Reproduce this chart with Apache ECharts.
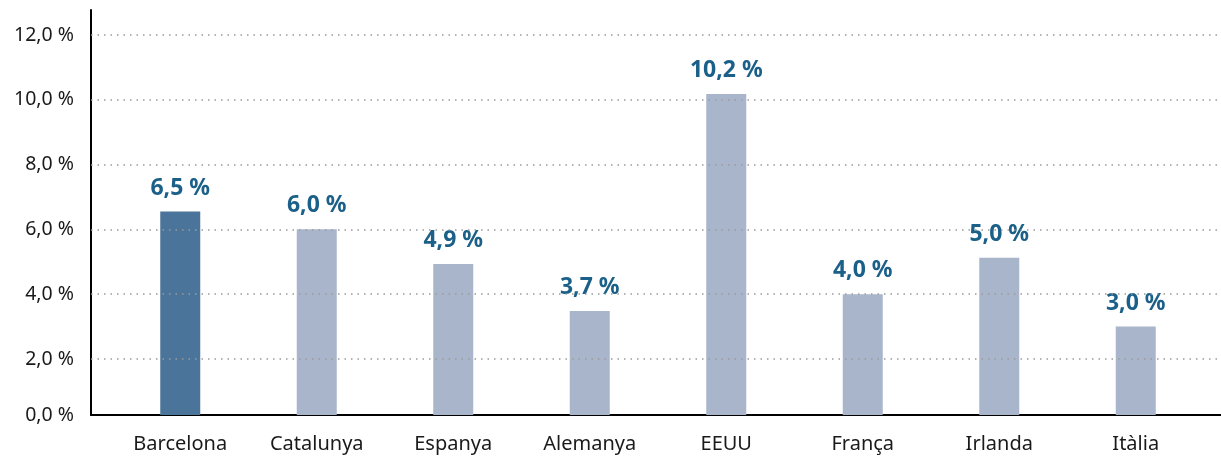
<!DOCTYPE html>
<html>
<head>
<meta charset="utf-8">
<script src="https://cdn.jsdelivr.net/npm/echarts@6/dist/echarts.min.js"></script>
<style>
  html, body { margin: 0; padding: 0; background: #fff; }
  #chart { width: 1221px; height: 458px; }
</style>
</head>
<body>
<div id="chart"></div>
<script>
const categories = ['Barcelona', 'Catalunya', 'Espanya', 'Alemanya', 'EEUU', 'França', 'Irlanda', 'Itàlia']
const barValues = [6.55, 6.0, 4.93, 3.48, 10.18, 4.0, 5.12, 3.0]
const valueLabels = ['6,5 %', '6,0 %', '4,9 %', '3,7 %', '10,2 %', '4,0 %', '5,0 %', '3,0 %']
const gridValues = [2, 4, 6, 8, 10, 12]
// the original's baseline sits a little above zero
const axisMin = 0.27
const axisMax = 12.77
const yLabelValues = [axisMin].concat(gridValues)

const FONT = '"Noto Sans", Roboto, sans-serif'
const highlight = 'Barcelona'

const fmtPct = v => (v < 1 ? 0 : v).toFixed(1).replace('.', ',') + ' %'

const chart = echarts.init(document.getElementById('chart'), null, { renderer: 'canvas' })

chart.setOption({
  animation: false,
  grid: [
    { left: 91, right: 0, top: 10, bottom: 43 },
    { left: 112, right: 17, top: 10, bottom: 43 }
  ],
  xAxis: [
    {
      gridIndex: 0,
      type: 'category',
      data: categories,
      axisLine: { lineStyle: { color: '#000', width: 2 } },
      axisTick: { show: false },
      axisLabel: { show: false }
    },
    {
      gridIndex: 1,
      type: 'category',
      data: categories,
      axisLine: { show: false },
      axisTick: { show: false },
      axisLabel: { color: '#1a1a1a', fontSize: 20, fontFamily: FONT, margin: 19 }
    }
  ],
  yAxis: [
    {
      gridIndex: 0,
      type: 'value',
      min: axisMin,
      max: axisMax,
      axisLine: { show: true, lineStyle: { color: '#000', width: 2 } },
      axisTick: { show: false },
      splitLine: { show: false },
      axisLabel: {
        customValues: yLabelValues,
        formatter: fmtPct,
        color: '#1a1a1a',
        fontSize: 19.5,
        fontFamily: FONT,
        margin: 17,
        padding: [0, 0, 7, 0]
      }
    },
    {
      gridIndex: 1,
      type: 'value',
      min: axisMin,
      max: axisMax,
      show: false,
      splitLine: { show: false }
    }
  ],
  series: [
    {
      // carries the dotted gridlines across the full plot width
      type: 'line',
      xAxisIndex: 0,
      yAxisIndex: 0,
      data: [],
      silent: true,
      markLine: {
        silent: true,
        symbol: 'none',
        label: { show: false },
        lineStyle: { type: [1.5, 5], color: '#9a9a9a', width: 1.5 },
        data: gridValues.map(v => ({ yAxis: v }))
      }
    },
    {
      type: 'bar',
      xAxisIndex: 1,
      yAxisIndex: 1,
      barWidth: 40,
      data: barValues.map((v, i) => ({
        value: v,
        itemStyle: { color: categories[i] === highlight ? '#4a7499' : '#a9b5cb' }
      })),
      label: {
        show: true,
        position: 'top',
        distance: 12,
        formatter: p => valueLabels[p.dataIndex],
        color: '#1b6089',
        fontSize: 23,
        fontWeight: 'bold',
        fontFamily: FONT
      }
    }
  ]
})
</script>
</body>
</html>
